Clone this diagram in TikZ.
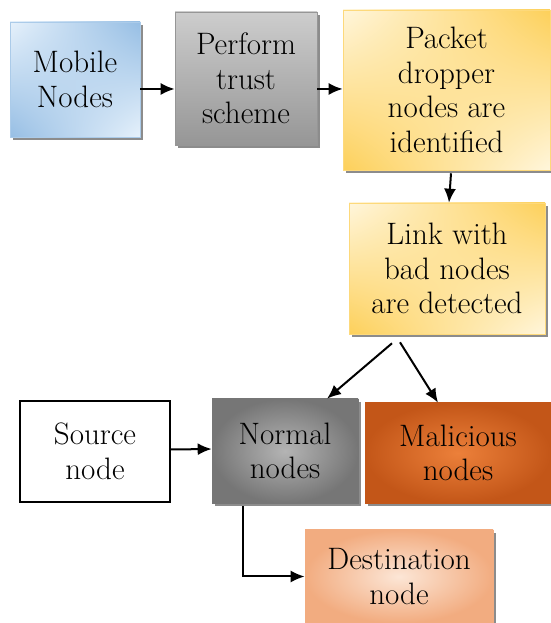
\documentclass[tikz,border=0pt]{standalone}
\usepackage{tikz}
\usetikzlibrary{shadows,shadings,arrows.meta}

\definecolor{mobileLight}{RGB}{230,241,251}
\definecolor{mobileDark}{RGB}{150,190,228}
\definecolor{trustLight}{RGB}{205,205,205}
\definecolor{trustDark}{RGB}{150,150,150}
\definecolor{dropLight}{RGB}{255,246,220}
\definecolor{dropDark}{RGB}{253,208,90}
\definecolor{normalLight}{RGB}{180,180,180}
\definecolor{normalDark}{RGB}{118,118,118}
\definecolor{badLight}{RGB}{236,128,58}
\definecolor{badDark}{RGB}{195,86,24}
\definecolor{destLight}{RGB}{252,230,214}
\definecolor{destDark}{RGB}{242,172,128}

\begin{document}
\begin{tikzpicture}[x=1pt,y=1pt,
    box/.style={rectangle,align=center,inner sep=2pt,line width=0.6pt,
                font=\fontsize{31}{34.5}\selectfont},
    shadowed/.style={drop shadow={shadow xshift=3pt,shadow yshift=-3pt,
                fill=black!45,opacity=1}},
    arr/.style={-{Latex[length=14pt,width=12pt]},line width=2pt}]

          \useasboundingbox (0,0) rectangle (550,623);

          \node[box,shadowed,draw=mobileDark!80,minimum width=130pt,minimum height=115pt,
                upper left=mobileLight,upper right=mobileDark,
                lower left=mobileDark,lower right=mobileLight] (mobile) at (75,543.5) {Mobile\\Nodes};
          \node[box,shadowed,draw=trustDark,minimum width=142pt,minimum height=133pt,
                top color=trustLight,bottom color=trustDark] (trust) at (246,544.5) {Perform\\trust\\scheme};
          \node[box,shadowed,draw=dropDark!80,minimum width=207pt,minimum height=160pt,
                upper left=dropLight,upper right=dropDark,
                lower left=dropDark,lower right=dropLight] (dropper) at (446.5,533) {Packet\\dropper\\nodes are\\identified};
          \node[box,shadowed,draw=dropDark!80,minimum width=196pt,minimum height=131pt,
                upper left=dropLight,upper right=dropDark,
                lower left=dropDark,lower right=dropLight] (link) at (447,354.5) {Link with\\bad nodes\\are detected};

          \node[box,draw=black,line width=1.6pt,minimum width=150pt,minimum height=101pt,
                fill=white] (source) at (95,171.5) {Source\\node};
          \node[box,shadowed,draw=normalDark,minimum width=146pt,minimum height=104pt,
                inner color=normalLight,outer color=normalDark] (normal) at (285,172) {Normal\\nodes};
          \node[box,shadowed,draw=badDark,minimum width=186pt,minimum height=100pt,
                inner color=badLight,outer color=badDark] (malicious) at (458,170) {Malicious\\nodes};
          \node[box,shadowed,draw=destDark,minimum width=188pt,minimum height=93pt,
                inner color=destLight,outer color=destDark] (dest) at (399,46.5) {Destination\\node};

          \draw[arr] ([yshift=-9.5pt]mobile.east) -- ([yshift=-10.5pt]trust.west);
          \draw[arr] ([yshift=-10.5pt]trust.east) -- ([yshift=1pt]dropper.west);
          \draw[arr] ([xshift=4.5pt,yshift=-3pt]dropper.south) -- ([xshift=2pt]link.north);
          \draw[arr] ([xshift=-55pt,yshift=-9pt]link.south) -- ([xshift=42pt]normal.north);
          \draw[arr] ([xshift=-47pt,yshift=-8pt]link.south) -- ([xshift=-20pt]malicious.north);
          \draw[arr] ([yshift=2pt]source.east) -- ([yshift=2pt]normal.west);
          \draw[arr] ([xshift=31pt,yshift=-3pt]normal.south west) |- (dest.west);
        \end{tikzpicture}
\end{document}
